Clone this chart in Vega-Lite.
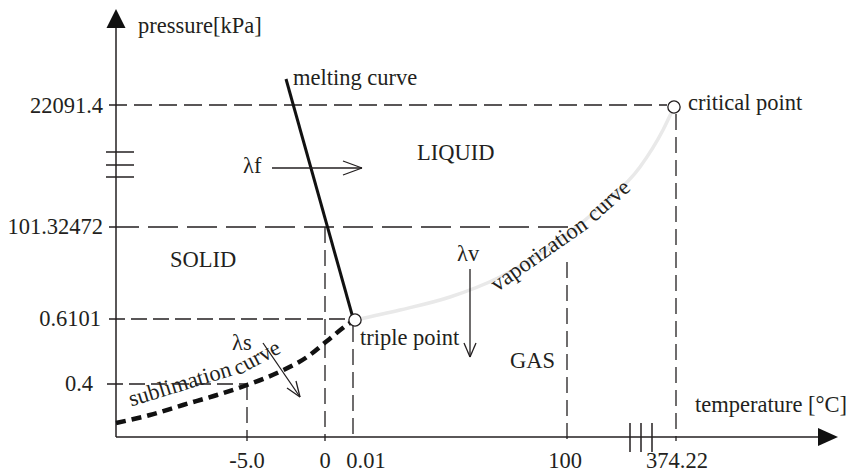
{
  "$schema": "https://vega.github.io/schema/vega-lite/v6.json",
  "width": 852,
  "height": 473,
  "autosize": {"type": "fit", "contains": "padding"},
  "padding": 0,
  "background": "white",
  "config": {
    "view": {"stroke": null},
    "text": {"font": "Liberation Serif", "fontSize": 22.5, "fill": "#231f20"}
  },
  "encoding": {
    "x": {"field": "u", "type": "quantitative", "scale": {"domain": [-116, 736], "nice": false, "zero": false}, "axis": null},
    "y": {"field": "v", "type": "quantitative", "scale": {"domain": [-36, 437], "nice": false, "zero": false}, "axis": null}
  },
  "datasets": {
    "vap": [
      {"o": 1, "u": 239, "v": 117},
      {"o": 2, "u": 284, "v": 127},
      {"o": 3, "u": 334, "v": 140},
      {"o": 4, "u": 384, "v": 160},
      {"o": 5, "u": 434, "v": 190},
      {"o": 6, "u": 484, "v": 230},
      {"o": 7, "u": 524, "v": 270},
      {"o": 8, "u": 547, "v": 307},
      {"o": 9, "u": 558, "v": 330}
    ],
    "sub": [
      {"o": 1, "u": 0, "v": 14},
      {"o": 2, "u": 34, "v": 22},
      {"o": 3, "u": 67, "v": 32},
      {"o": 4, "u": 101, "v": 42},
      {"o": 5, "u": 131, "v": 52},
      {"o": 6, "u": 161, "v": 64},
      {"o": 7, "u": 191, "v": 80},
      {"o": 8, "u": 211, "v": 96},
      {"o": 9, "u": 231, "v": 112},
      {"o": 10, "u": 239, "v": 117}
    ],
    "segs": [
      {"g": "d1", "u": -7, "v": 332, "u2": 551, "v2": 332},
      {"g": "d2", "u": -7, "v": 210, "u2": 452, "v2": 210},
      {"g": "d3", "u": -7, "v": 118, "u2": 233, "v2": 118},
      {"g": "d4", "u": -9, "v": 53, "u2": 131, "v2": 53},
      {"g": "dv", "u": 131, "v": 53, "u2": 131, "v2": -4},
      {"g": "dv", "u": 209, "v": 210, "u2": 209, "v2": -4},
      {"g": "dv", "u": 237, "v": 111, "u2": 237, "v2": -4},
      {"g": "dv", "u": 451, "v": 175, "u2": 451, "v2": -4},
      {"g": "dv", "u": 560, "v": 323, "u2": 560, "v2": -4},
      {"g": "ax", "u": 0, "v": 0, "u2": 705, "v2": 0},
      {"g": "ax", "u": 0, "v": 0, "u2": 0, "v2": 412},
      {"g": "ax", "u": -10, "v": 285, "u2": 18, "v2": 285},
      {"g": "ax", "u": -10, "v": 272, "u2": 18, "v2": 272},
      {"g": "ax", "u": -10, "v": 260, "u2": 18, "v2": 260},
      {"g": "ax", "u": 514, "v": 14, "u2": 514, "v2": -15},
      {"g": "ax", "u": 525, "v": 14, "u2": 525, "v2": -15},
      {"g": "ax", "u": 536, "v": 14, "u2": 536, "v2": -15},
      {"g": "ar", "u": 156, "v": 269, "u2": 246, "v2": 269},
      {"g": "ar", "u": 227, "v": 276, "u2": 246, "v2": 269},
      {"g": "ar", "u": 227, "v": 262, "u2": 246, "v2": 269},
      {"g": "ar", "u": 354, "v": 168, "u2": 354, "v2": 80},
      {"g": "ar", "u": 348, "v": 94, "u2": 354, "v2": 80},
      {"g": "ar", "u": 360, "v": 94, "u2": 354, "v2": 80},
      {"g": "ar", "u": 147, "v": 94, "u2": 184, "v2": 40},
      {"g": "ar", "u": 180, "v": 56, "u2": 184, "v2": 40},
      {"g": "ar", "u": 171, "v": 49, "u2": 184, "v2": 40},
      {"g": "melt", "u": 170, "v": 358, "u2": 237, "v2": 119}
    ],
    "labels": [
      {"al": "left", "t": "pressure[kPa]", "u": 22, "v": 404},
      {"al": "left", "t": "melting curve", "u": 177, "v": 352},
      {"al": "left", "t": "critical point", "u": 572, "v": 327},
      {"al": "left", "t": "LIQUID", "u": 301, "v": 277},
      {"al": "left", "t": "λf", "u": 127, "v": 264},
      {"al": "left", "t": "SOLID", "u": 54, "v": 170},
      {"al": "left", "t": "λs", "u": 116, "v": 87},
      {"al": "left", "t": "triple point", "u": 244, "v": 92},
      {"al": "left", "t": "GAS", "u": 394, "v": 69},
      {"al": "left", "t": "temperature [°C]", "u": 579, "v": 25},
      {"al": "left", "t": "λv", "u": 341, "v": 176},
      {"al": "right", "t": "22091.4", "u": -13, "v": 324},
      {"al": "right", "t": "101.32472", "u": -13, "v": 203},
      {"al": "right", "t": "0.6101", "u": -15, "v": 111},
      {"al": "right", "t": "0.4", "u": -23, "v": 46},
      {"al": "center", "t": "-5.0", "u": 131, "v": -31},
      {"al": "center", "t": "0", "u": 209, "v": -31},
      {"al": "center", "t": "0.01", "u": 250, "v": -31},
      {"al": "center", "t": "100", "u": 449, "v": -31},
      {"al": "center", "t": "374.22", "u": 561, "v": -31}
    ],
    "rot": [
      {"t": "sublimation", "u": 66, "v": 46, "a": -17},
      {"t": "curve", "u": 144, "v": 73, "a": -28},
      {"t": "vaporization", "u": 427, "v": 177, "a": -35},
      {"t": "curve", "u": 497, "v": 231, "a": -42}
    ],
    "pts": [
      {"u": 239, "v": 117},
      {"u": 558, "v": 330}
    ],
    "xarrow": [{"u": 712, "v": 0}],
    "yarrow": [{"u": 0, "v": 418.5}]
  },
  "layer": [
    {
      "data": {"name": "vap"},
      "mark": {"type": "line", "interpolate": "monotone", "stroke": "#e9e9e9", "strokeWidth": 3.5},
      "encoding": {"order": {"field": "o", "type": "quantitative"}}
    },
    {
      "data": {"name": "segs"},
      "transform": [{"filter": "datum.g == 'd1'"}],
      "mark": {"type": "rule", "stroke": "#231f20", "strokeWidth": 1.3, "strokeDash": [18, 7]},
      "encoding": {"x2": {"field": "u2"}, "y2": {"field": "v2"}}
    },
    {
      "data": {"name": "segs"},
      "transform": [{"filter": "datum.g == 'd2'"}],
      "mark": {"type": "rule", "stroke": "#231f20", "strokeWidth": 1.3, "strokeDash": [30, 9]},
      "encoding": {"x2": {"field": "u2"}, "y2": {"field": "v2"}}
    },
    {
      "data": {"name": "segs"},
      "transform": [{"filter": "datum.g == 'd3' || datum.g == 'd4'"}],
      "mark": {"type": "rule", "stroke": "#231f20", "strokeWidth": 1.3, "strokeDash": [16, 6]},
      "encoding": {"x2": {"field": "u2"}, "y2": {"field": "v2"}}
    },
    {
      "data": {"name": "segs"},
      "transform": [{"filter": "datum.g == 'dv'"}],
      "mark": {"type": "rule", "stroke": "#231f20", "strokeWidth": 1.3, "strokeDash": [16, 7]},
      "encoding": {"x2": {"field": "u2"}, "y2": {"field": "v2"}}
    },
    {
      "data": {"name": "segs"},
      "transform": [{"filter": "datum.g == 'ax'"}],
      "mark": {"type": "rule", "stroke": "#231f20", "strokeWidth": 1.5},
      "encoding": {"x2": {"field": "u2"}, "y2": {"field": "v2"}}
    },
    {
      "data": {"name": "sub"},
      "mark": {"type": "line", "interpolate": "monotone", "stroke": "#111111", "strokeWidth": 4.5, "strokeDash": [10, 6]},
      "encoding": {"order": {"field": "o", "type": "quantitative"}}
    },
    {
      "data": {"name": "segs"},
      "transform": [{"filter": "datum.g == 'melt'"}],
      "mark": {"type": "rule", "stroke": "#111111", "strokeWidth": 3},
      "encoding": {"x2": {"field": "u2"}, "y2": {"field": "v2"}}
    },
    {
      "data": {"name": "segs"},
      "transform": [{"filter": "datum.g == 'ar'"}],
      "mark": {"type": "rule", "stroke": "#231f20", "strokeWidth": 1.3},
      "encoding": {"x2": {"field": "u2"}, "y2": {"field": "v2"}}
    },
    {
      "data": {"name": "pts"},
      "mark": {"type": "point", "shape": "circle", "filled": true, "fill": "white", "stroke": "#231f20", "strokeWidth": 1.3, "size": 150, "opacity": 1}
    },
    {
      "data": {"name": "xarrow"},
      "mark": {"type": "point", "shape": "M1,0L-1,-0.9L-1,0.9Z", "filled": true, "fill": "#111111", "stroke": null, "size": 400, "opacity": 1}
    },
    {
      "data": {"name": "yarrow"},
      "mark": {"type": "point", "shape": "M0,-1L1,1L-1,1Z", "filled": true, "fill": "#111111", "stroke": null, "size": 361, "opacity": 1}
    },
    {
      "data": {"name": "labels"},
      "transform": [{"filter": "datum.al == 'left'"}],
      "mark": {"type": "text", "align": "left", "baseline": "alphabetic"},
      "encoding": {"text": {"field": "t", "type": "nominal"}}
    },
    {
      "data": {"name": "labels"},
      "transform": [{"filter": "datum.al == 'right'"}],
      "mark": {"type": "text", "align": "right", "baseline": "alphabetic"},
      "encoding": {"text": {"field": "t", "type": "nominal"}}
    },
    {
      "data": {"name": "labels"},
      "transform": [{"filter": "datum.al == 'center'"}],
      "mark": {"type": "text", "align": "center", "baseline": "alphabetic"},
      "encoding": {"text": {"field": "t", "type": "nominal"}}
    },
    {
      "data": {"name": "rot"},
      "mark": {"type": "text", "align": "center", "baseline": "alphabetic"},
      "encoding": {
        "text": {"field": "t", "type": "nominal"},
        "angle": {"field": "a", "type": "quantitative", "scale": null}
      }
    }
  ]
}
